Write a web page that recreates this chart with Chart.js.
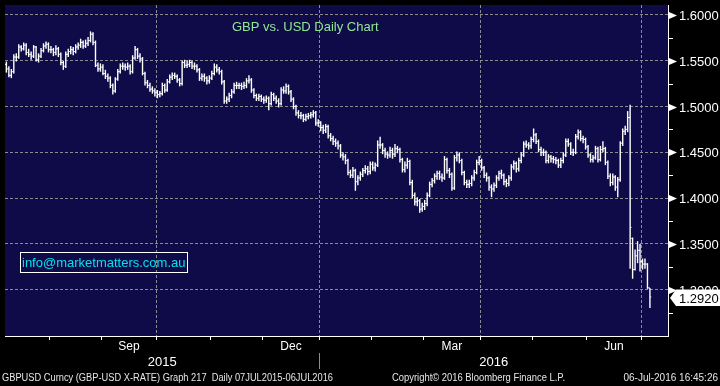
<!DOCTYPE html>
<html>
<head>
<meta charset="utf-8">
<script src="https://cdn.jsdelivr.net/npm/chart.js@4.4.0/dist/chart.umd.min.js"></script>
<style>
  html, body { margin: 0; padding: 0; background: #000; }
  #wrap { width: 720px; height: 386px; }
</style>
</head>
<body>
<div id="wrap"><canvas id="fx" width="720" height="386"></canvas></div>
<script>
// daily GBPUSD bars, 07JUL2015 - 06JUL2016 (one entry per trading day)
const opens = [
  1.548,1.546,1.541,1.534,1.538,1.554,1.554,1.565,1.563,1.567,
  1.559,1.557,1.555,1.565,1.551,1.555,1.561,1.566,1.568,1.562,
  1.562,1.559,1.563,1.557,1.548,1.544,1.557,1.560,1.562,1.560,
  1.565,1.567,1.570,1.566,1.569,1.572,1.579,1.570,1.545,1.541,
  1.543,1.536,1.533,1.531,1.523,1.517,1.530,1.538,1.544,1.544,
  1.543,1.544,1.538,1.553,1.562,1.555,1.552,1.536,1.526,1.523,
  1.519,1.517,1.515,1.513,1.514,1.523,1.518,1.527,1.532,1.534,
  1.533,1.529,1.525,1.548,1.545,1.546,1.548,1.544,1.544,1.540,
  1.531,1.533,1.531,1.528,1.531,1.536,1.543,1.540,1.538,1.527,
  1.506,1.508,1.512,1.516,1.523,1.523,1.523,1.522,1.523,1.528,
  1.529,1.518,1.512,1.509,1.511,1.508,1.507,1.509,1.503,1.513,
  1.509,1.506,1.503,1.518,1.517,1.522,1.516,1.508,1.500,1.493,
  1.490,1.490,1.486,1.489,1.490,1.491,1.493,1.482,1.482,1.477,
  1.474,1.478,1.468,1.465,1.462,1.460,1.457,1.447,1.445,1.441,
  1.428,1.425,1.430,1.418,1.422,1.426,1.430,1.432,1.429,1.437,
  1.433,1.436,1.458,1.458,1.452,1.448,1.447,1.452,1.448,1.454,
  1.453,1.442,1.431,1.436,1.440,1.417,1.403,1.396,1.397,1.388,
  1.391,1.394,1.403,1.415,1.419,1.424,1.427,1.423,1.422,1.442,
  1.430,1.426,1.411,1.444,1.447,1.441,1.428,1.417,1.415,1.416,
  1.422,1.428,1.439,1.441,1.433,1.425,1.422,1.412,1.410,1.414,
  1.422,1.427,1.425,1.418,1.416,1.422,1.434,1.438,1.432,1.441,
  1.447,1.459,1.458,1.457,1.464,1.469,1.462,1.453,1.450,1.450,
  1.441,1.445,1.443,1.442,1.441,1.436,1.441,1.447,1.462,1.459,
  1.450,1.450,1.467,1.472,1.465,1.464,1.456,1.447,1.442,1.444,
  1.454,1.442,1.453,1.454,1.439,1.424,1.417,1.423,1.412,1.420,
  1.460,1.473,1.475,1.488,1.356,1.322,1.337,1.343,1.331,1.328,
  1.328,1.302
];
const highs = [
  1.552,1.549,1.544,1.541,1.557,1.558,1.568,1.567,1.570,1.569,
  1.563,1.560,1.567,1.566,1.558,1.564,1.569,1.571,1.570,1.566,
  1.564,1.567,1.565,1.559,1.550,1.560,1.563,1.566,1.565,1.568,
  1.570,1.574,1.572,1.573,1.576,1.582,1.581,1.572,1.548,1.547,
  1.546,1.540,1.536,1.533,1.525,1.532,1.541,1.547,1.548,1.547,
  1.548,1.546,1.556,1.566,1.564,1.558,1.554,1.538,1.529,1.526,
  1.522,1.520,1.518,1.517,1.526,1.525,1.530,1.535,1.537,1.537,
  1.535,1.531,1.550,1.551,1.550,1.551,1.550,1.548,1.546,1.542,
  1.536,1.536,1.533,1.534,1.539,1.547,1.546,1.543,1.540,1.529,
  1.511,1.515,1.519,1.526,1.527,1.526,1.526,1.527,1.531,1.534,
  1.531,1.520,1.514,1.514,1.513,1.511,1.512,1.511,1.516,1.515,
  1.512,1.509,1.521,1.522,1.525,1.524,1.518,1.510,1.502,1.496,
  1.494,1.492,1.492,1.493,1.494,1.496,1.495,1.486,1.484,1.480,
  1.481,1.480,1.471,1.468,1.465,1.463,1.459,1.450,1.448,1.443,
  1.431,1.434,1.432,1.425,1.429,1.433,1.436,1.435,1.440,1.440,
  1.439,1.463,1.467,1.460,1.455,1.451,1.456,1.455,1.459,1.457,
  1.455,1.444,1.440,1.444,1.442,1.420,1.406,1.401,1.399,1.395,
  1.398,1.406,1.418,1.422,1.427,1.430,1.430,1.427,1.446,1.444,
  1.433,1.428,1.447,1.451,1.450,1.443,1.430,1.420,1.420,1.425,
  1.431,1.442,1.446,1.443,1.435,1.428,1.424,1.415,1.417,1.425,
  1.430,1.431,1.427,1.421,1.425,1.437,1.441,1.440,1.444,1.450,
  1.462,1.463,1.461,1.467,1.476,1.471,1.464,1.456,1.454,1.452,
  1.448,1.447,1.446,1.445,1.443,1.444,1.450,1.465,1.465,1.461,
  1.454,1.470,1.475,1.474,1.468,1.466,1.458,1.449,1.447,1.457,
  1.456,1.457,1.462,1.456,1.441,1.427,1.427,1.425,1.423,1.462,
  1.476,1.479,1.495,1.502,1.357,1.344,1.353,1.350,1.334,1.334,
  1.329,1.302
];
const lows = [
  1.541,1.537,1.532,1.531,1.536,1.549,1.552,1.560,1.561,1.556,
  1.554,1.551,1.553,1.549,1.548,1.553,1.559,1.563,1.559,1.558,
  1.555,1.556,1.554,1.545,1.540,1.542,1.554,1.557,1.556,1.558,
  1.562,1.564,1.563,1.564,1.566,1.570,1.567,1.543,1.538,1.538,
  1.534,1.530,1.527,1.520,1.513,1.515,1.528,1.536,1.540,1.539,
  1.540,1.535,1.536,1.551,1.552,1.548,1.534,1.523,1.520,1.516,
  1.514,1.511,1.509,1.510,1.512,1.515,1.516,1.525,1.529,1.530,
  1.526,1.522,1.523,1.542,1.542,1.543,1.541,1.540,1.537,1.528,
  1.528,1.527,1.524,1.525,1.529,1.534,1.537,1.535,1.524,1.503,
  1.503,1.505,1.509,1.514,1.519,1.519,1.518,1.519,1.520,1.525,
  1.515,1.509,1.506,1.506,1.505,1.503,1.504,1.496,1.501,1.506,
  1.503,1.499,1.501,1.514,1.514,1.513,1.505,1.497,1.490,1.487,
  1.486,1.483,1.484,1.486,1.487,1.488,1.479,1.478,1.473,1.470,
  1.471,1.465,1.462,1.458,1.456,1.453,1.444,1.441,1.437,1.425,
  1.422,1.422,1.408,1.414,1.419,1.423,1.427,1.425,1.426,1.430,
  1.429,1.434,1.454,1.448,1.444,1.443,1.444,1.443,1.445,1.449,
  1.439,1.428,1.428,1.432,1.414,1.400,1.392,1.391,1.384,1.385,
  1.387,1.391,1.401,1.412,1.416,1.420,1.420,1.418,1.420,1.427,
  1.422,1.408,1.409,1.440,1.438,1.425,1.414,1.411,1.411,1.413,
  1.419,1.426,1.436,1.430,1.422,1.418,1.408,1.401,1.407,1.411,
  1.419,1.421,1.414,1.412,1.413,1.419,1.431,1.428,1.429,1.438,
  1.445,1.455,1.453,1.454,1.461,1.459,1.450,1.446,1.446,1.438,
  1.438,1.439,1.438,1.437,1.433,1.433,1.438,1.445,1.456,1.447,
  1.446,1.448,1.464,1.462,1.460,1.453,1.444,1.439,1.439,1.442,
  1.439,1.440,1.450,1.436,1.421,1.413,1.414,1.408,1.401,1.418,
  1.457,1.469,1.472,1.323,1.312,1.321,1.329,1.320,1.322,1.323,
  1.301,1.280
];
const closes = [
  1.546,1.541,1.534,1.538,1.554,1.554,1.565,1.563,1.567,1.559,
  1.557,1.555,1.565,1.551,1.555,1.561,1.566,1.568,1.562,1.562,
  1.559,1.563,1.557,1.548,1.544,1.557,1.560,1.562,1.560,1.565,
  1.567,1.570,1.566,1.569,1.572,1.579,1.570,1.545,1.541,1.543,
  1.536,1.533,1.531,1.523,1.517,1.530,1.538,1.544,1.544,1.543,
  1.544,1.538,1.553,1.562,1.555,1.552,1.536,1.526,1.523,1.519,
  1.517,1.515,1.513,1.514,1.523,1.518,1.527,1.532,1.534,1.533,
  1.529,1.525,1.548,1.545,1.546,1.548,1.544,1.544,1.540,1.531,
  1.533,1.531,1.528,1.531,1.536,1.543,1.540,1.538,1.527,1.506,
  1.508,1.512,1.516,1.523,1.523,1.523,1.522,1.523,1.528,1.529,
  1.518,1.512,1.509,1.511,1.508,1.507,1.509,1.503,1.513,1.509,
  1.506,1.503,1.518,1.517,1.522,1.516,1.508,1.500,1.493,1.490,
  1.490,1.486,1.489,1.490,1.491,1.493,1.482,1.482,1.477,1.474,
  1.478,1.468,1.465,1.462,1.460,1.457,1.447,1.445,1.441,1.428,
  1.425,1.430,1.418,1.422,1.426,1.430,1.432,1.429,1.437,1.433,
  1.436,1.458,1.458,1.452,1.448,1.447,1.452,1.448,1.454,1.453,
  1.442,1.431,1.436,1.440,1.417,1.403,1.396,1.397,1.388,1.391,
  1.394,1.403,1.415,1.419,1.424,1.427,1.423,1.422,1.442,1.430,
  1.426,1.411,1.444,1.447,1.441,1.428,1.417,1.415,1.416,1.422,
  1.428,1.439,1.441,1.433,1.425,1.422,1.412,1.410,1.414,1.422,
  1.427,1.425,1.418,1.416,1.422,1.434,1.438,1.432,1.441,1.447,
  1.459,1.458,1.457,1.464,1.469,1.462,1.453,1.450,1.450,1.441,
  1.445,1.443,1.442,1.441,1.436,1.441,1.447,1.462,1.459,1.450,
  1.450,1.467,1.472,1.465,1.464,1.456,1.447,1.442,1.444,1.454,
  1.442,1.453,1.454,1.439,1.424,1.417,1.423,1.412,1.420,1.460,
  1.473,1.475,1.488,1.368,1.322,1.337,1.343,1.331,1.328,1.328,
  1.302,1.292
];

// index of first trading day of Aug 2015 .. Jul 2016
const monthStarts = [19, 40, 62, 84, 105, 128, 149, 170, 193, 214, 236, 258];
const quarterStarts = [62, 128, 193, 258];
const monthLabels = ["Sep", "Dec", "Mar", "Jun"];
const monthLabelSlots = [1, 4, 7, 10];   // position in monthStarts
const yearLabels = ["2015", "2016"];

const yMajor = [1.30, 1.35, 1.40, 1.45, 1.50, 1.55, 1.60];
const yMinor = [1.275, 1.325, 1.375, 1.425, 1.475, 1.525, 1.575];
const lastPrice = 1.2920;

const FONT = "'Liberation Sans', Arial, sans-serif";
const GRID = "#8c8c8c";

const decor = {
  id: "decor",
  beforeDraw(chart) {
    const { ctx, chartArea: a } = chart;
    ctx.save();
    ctx.fillStyle = "#000";
    ctx.fillRect(0, 0, chart.width, chart.height);
    ctx.fillStyle = "#0e0b48";
    ctx.fillRect(a.left, a.top, a.right - a.left, a.bottom - a.top);
    ctx.restore();
  },
  afterDraw(chart) {
    const { ctx, chartArea: a, scales: { x, y } } = chart;
    ctx.save();
    ctx.strokeStyle = "#fff";
    ctx.fillStyle = "#fff";
    ctx.lineWidth = 1;

    // right axis: minor ticks, triangles, labels
    for (const v of yMinor) {
      const py = Math.round(y.getPixelForValue(v)) + 0.5;
      ctx.beginPath();
      ctx.moveTo(a.right, py);
      ctx.lineTo(a.right + 5, py);
      ctx.stroke();
    }
    ctx.font = "13px " + FONT;
    ctx.textAlign = "left";
    ctx.textBaseline = "middle";
    for (const v of yMajor) {
      const py = Math.round(y.getPixelForValue(v)) + 0.5;
      ctx.beginPath();
      ctx.moveTo(a.right + 1, py - 3.5);
      ctx.lineTo(a.right + 9, py);
      ctx.lineTo(a.right + 1, py + 3.5);
      ctx.closePath();
      ctx.fill();
      ctx.fillText(v.toFixed(4), a.right + 11, py + 1);
    }

    // last price flag
    const pp = y.getPixelForValue(lastPrice) + 1;
    ctx.beginPath();
    ctx.moveTo(a.right + 2, pp);
    ctx.lineTo(a.right + 8, pp - 8.5);
    ctx.lineTo(chart.width, pp - 8.5);
    ctx.lineTo(chart.width, pp + 8);
    ctx.lineTo(a.right + 8, pp + 8);
    ctx.closePath();
    ctx.fill();
    ctx.fillStyle = "#000";
    ctx.fillText(lastPrice.toFixed(4), a.right + 11, pp + 1);

    // month and year labels
    ctx.fillStyle = "#fff";
    ctx.textAlign = "center";
    ctx.font = "12px " + FONT;
    monthLabels.forEach((m, k) => {
      const s = monthLabelSlots[k];
      const mid = (monthStarts[s] + monthStarts[s + 1]) / 2 - 0.5;
      ctx.fillText(m, x.getPixelForValue(mid), 347);
    });
    const yb = x.getPixelForValue(monthStarts[5] - 0.5);
    ctx.font = "13px " + FONT;
    ctx.fillText(yearLabels[0], (a.left + yb) / 2, 362);
    ctx.fillText(yearLabels[1], (yb + a.right) / 2, 362);
    ctx.strokeStyle = GRID;
    ctx.beginPath();
    ctx.moveTo(Math.round(yb) + 0.5, 353);
    ctx.lineTo(Math.round(yb) + 0.5, 369);
    ctx.stroke();

    // footer
    ctx.fillStyle = "#e6e6e6";
    ctx.font = "10px " + FONT;
    ctx.textAlign = "left";
    ctx.fillText("GBPUSD Curncy (GBP-USD X-RATE) Graph 217  Daily 07JUL2015-06JUL2016", 2, 378, 331);
    ctx.fillText("Copyright\u00a9 2016 Bloomberg Finance L.P.", 392, 378, 173);
    ctx.textAlign = "right";
    ctx.fillText("06-Jul-2016 16:45:26", 718, 378, 95);

    // title and contact box
    ctx.textAlign = "left";
    ctx.font = "13px " + FONT;
    ctx.fillStyle = "#92e892";
    ctx.fillText("GBP vs. USD Daily Chart", 232, 27);
    ctx.strokeStyle = "#fff";
    ctx.strokeRect(20.5, 252.5, 167, 20);
    ctx.fillStyle = "#00e0f0";
    ctx.fillText("info@marketmatters.com.au", 22, 263);
    ctx.restore();
  }
};

const rangeData = highs.map((h, i) => ({ x: i, y: [lows[i], h] }));
const openData = opens.map((v, i) => ({ x: i, y: v }));
const closeData = closes.map((v, i) => ({ x: i, y: v }));

const tickStyle = {
  type: "line",
  showLine: false,
  pointStyle: "dash",
  pointRadius: 1.3,
  pointBorderWidth: 1,
  pointBorderColor: "#fff",
  pointBackgroundColor: "#fff"
};

new Chart(document.getElementById("fx"), {
  type: "bar",
  data: {
    datasets: [
      { type: "bar", data: rangeData, backgroundColor: "#fff", borderWidth: 0, barThickness: 1.4, inflateAmount: 0, grouped: false },
      { ...tickStyle, data: openData, pointRotation: 180 },
      { ...tickStyle, data: closeData, pointRotation: 0 }
    ]
  },
  options: {
    responsive: false,
    animation: false,
    events: [],
    devicePixelRatio: 1,
    layout: { padding: 0 },
    plugins: { legend: { display: false }, tooltip: { enabled: false } },
    scales: {
      x: {
        type: "linear",
        min: 0.44,
        max: 268.3,
        offset: false,
        afterBuildTicks: (s) => { s.ticks = monthStarts.map((m) => ({ value: m - 0.5 })); },
        afterFit: (s) => { s.height = 50; },
        ticks: { display: false },
        grid: {
          offset: false,
          color: (c) => (c.tick && quarterStarts.includes(c.tick.value + 0.5) ? GRID : "rgba(0,0,0,0)"),
          drawTicks: true,
          tickLength: 4,
          tickColor: "#fff",
          tickWidth: 1
        },
        border: { color: "#fff", width: 1, dash: [3, 2] }
      },
      y: {
        type: "linear",
        position: "right",
        min: 1.2495,
        max: 1.6108,
        beginAtZero: false,
        afterBuildTicks: (s) => {
          s.ticks = yMinor.concat(yMajor).sort((p, q) => p - q).map((v) => ({ value: v }));
        },
        afterFit: (s) => { s.width = 52; },
        ticks: { display: false },
        grid: {
          color: (c) => (c.tick && yMajor.includes(c.tick.value) ? GRID : "rgba(0,0,0,0)"),
          drawTicks: false
        },
        border: { color: "#fff", width: 1, dash: [3, 2] }
      }
    }
  },
  plugins: [decor]
});
</script>
</body>
</html>
